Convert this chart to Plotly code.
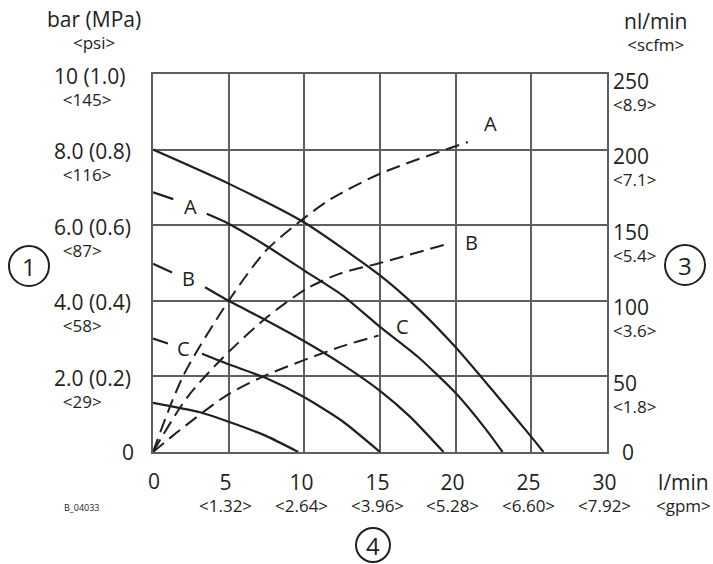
import plotly.graph_objects as go

# ---------------- data ----------------
# pressure curves (bar) vs flow (l/min)
p_top_x = [0, 5, 10, 15, 17.5, 20, 22.5, 25, 25.8]
p_top_y = [8.0, 7.1, 6.07, 4.67, 3.8, 2.77, 1.6, 0.4, 0]

p_a_lead_x = [0, 1.34]
p_a_lead_y = [6.87, 6.69]
p_a_x = [3.55, 5, 7.5, 10, 12.5, 15, 17.5, 20, 22, 23.1]
p_a_y = [6.3, 6.04, 5.45, 4.8, 4.15, 3.31, 2.52, 1.56, 0.6, 0]

p_b_lead_x = [0, 1.26]
p_b_lead_y = [4.98, 4.75]
p_b_x = [3.44, 5, 7.5, 10, 12.5, 15, 17, 19.2]
p_b_y = [4.36, 4.0, 3.48, 2.93, 2.32, 1.62, 0.93, 0]

p_c_lead_x = [0, 0.99]
p_c_lead_y = [3.0, 2.87]
p_c_x = [3.24, 5, 7.5, 10, 12.5, 15]
p_c_y = [2.6, 2.32, 1.95, 1.45, 0.82, 0]

p_d_x = [0, 3.1, 5, 7.5, 9.6]
p_d_y = [1.3, 1.05, 0.8, 0.42, 0]

# air consumption curves (nl/min) vs flow (l/min)
q_a_x = [0, 1.98, 5, 7.45, 9.52, 11.7, 15, 20.8]
q_a_y = [0, 50, 100, 133, 151, 167, 184, 205]
q_b_x = [0, 2.25, 4.63, 7.51, 10.16, 12.36, 15, 19.4]
q_b_y = [0, 36, 62.5, 89, 108, 118, 125, 137.5]
q_c_x = [0, 1.78, 4.87, 7.29, 12.36, 14.9]
q_c_y = [0, 14.5, 37.5, 50, 69.5, 77]

# curve labels
curve_labels = ["A", "B", "C"]
p_label_x = [2.45, 2.33, 2.0]
p_label_y = [6.49, 4.59, 2.74]
q_label_x = [22.3, 21.06, 16.5]
q_label_y = [8.69, 5.54, 3.33]   # in bar-axis units

# tick labels
left_vals = [2, 4, 6, 8, 10]
left_main = ["2.0 (0.2)", "4.0 (0.4)", "6.0 (0.6)", "8.0 (0.8)", "10 (1.0)"]
left_sub = ["&lt;29&gt;", "&lt;58&gt;", "&lt;87&gt;", "&lt;116&gt;", "&lt;145&gt;"]
right_vals = [50, 100, 150, 200, 250]
right_main = ["50", "100", "150", "200", "250"]
right_sub = ["&lt;1.8&gt;", "&lt;3.6&gt;", "&lt;5.4&gt;", "&lt;7.1&gt;", "&lt;8.9&gt;"]
bottom_vals = [5, 10, 15, 20, 25, 30]
bottom_main = ["5", "10", "15", "20", "25", "30"]
bottom_sub = ["&lt;1.32&gt;", "&lt;2.64&gt;", "&lt;3.96&gt;", "&lt;5.28&gt;", "&lt;6.60&gt;", "&lt;7.92&gt;"]

# ---------------- style ----------------
FONT = "Open Sans"
INK = "#231f20"
GRID = "#5b615f"
MAIN = 21
SUB = 17
BASE = 17   # sets the line spacing of two-line labels
W, H = 713, 564
L, R, T, B = 153, 106, 74, 112
PW, PH = W - L - R, H - T - B


def px(x):
    return (x - L) / PW


def py(y):
    return (H - B - y) / PH


def two(m, s, pad=""):
    return (f"<span style='font-size:{MAIN}px'>{m}</span><br>"
            f"<span style='font-size:{SUB}px'>{pad}{s}</span>")


fig = go.Figure()

solid = dict(color=INK, width=2.2, shape="spline", smoothing=0.6)
for xs, ys in [(p_top_x, p_top_y), (p_a_x, p_a_y), (p_b_x, p_b_y),
               (p_c_x, p_c_y), (p_d_x, p_d_y),
               (p_a_lead_x, p_a_lead_y), (p_b_lead_x, p_b_lead_y),
               (p_c_lead_x, p_c_lead_y)]:
    fig.add_trace(go.Scatter(x=xs, y=ys, mode="lines", line=solid,
                             hoverinfo="skip", showlegend=False))

dashed = dict(color=INK, width=2.0, shape="spline", smoothing=0.8, dash="14px,7px")
for xs, ys in [(q_a_x, q_a_y), (q_b_x, q_b_y), (q_c_x, q_c_y)]:
    fig.add_trace(go.Scatter(x=xs, y=ys, mode="lines", line=dashed, yaxis="y2",
                             hoverinfo="skip", showlegend=False))

ann = []
tf = dict(family=FONT, size=MAIN, color=INK)
bf = dict(family=FONT, size=BASE, color=INK)
lf = dict(family=FONT, size=20, color=INK)


def note(**kw):
    kw.setdefault("showarrow", False)
    kw.setdefault("xanchor", "center")
    kw.setdefault("yanchor", "middle")
    ann.append(kw)


for t, x, y in zip(curve_labels, p_label_x, p_label_y):
    note(x=x, y=y, xref="x", yref="y", text=t, font=lf)
for t, x, y in zip(curve_labels, q_label_x, q_label_y):
    note(x=x, y=y, xref="x", yref="y", text=t, font=lf)

# left axis labels
for v, m, s in zip(left_vals, left_main, left_sub):
    note(x=px(52), y=v, xref="paper", yref="y", text=two(m, s, "&nbsp;&nbsp;"),
         xanchor="left", align="left", yshift=-12, font=bf)
note(x=px(128), y=0, xref="paper", yref="y", text="0", font=tf)

# right axis labels
for v, m, s in zip(right_vals, right_main, right_sub):
    note(x=px(611), y=v, xref="paper", yref="y2", text=two(m, s),
         xanchor="left", align="left", yshift=-17, font=bf)
note(x=px(628), y=0, xref="paper", yref="y2", text="0", font=tf)

# bottom axis labels
note(x=0, y=py(481), xref="x", yref="paper", text="0", xshift=1, font=tf)
for v, m, s in zip(bottom_vals, bottom_main, bottom_sub):
    note(x=v, y=py(492), xref="x", yref="paper", text=two(m, s),
         align="center", xshift=-3, font=bf)

# unit titles
note(x=px(94), y=py(30), xref="paper", yref="paper", text=two("bar (MPa)", "&lt;psi&gt;"),
     align="center", font=bf)
note(x=px(656), y=py(31), xref="paper", yref="paper", text=two("nl/min", "&lt;scfm&gt;"),
     align="center", font=bf)
note(x=px(683), y=py(492), xref="paper", yref="paper", text=two("l/min", "&lt;gpm&gt;"),
     align="center", font=bf)
note(x=px(82), y=py(507), xref="paper", yref="paper", text="B_04033",
     font=dict(family=FONT, size=9, color=INK))

# circled callouts
shapes = []
for num, cx, cy, r in [("1", 29, 266, 20), ("3", 685, 265, 20), ("4", 373, 545, 17)]:
    shapes.append(dict(type="circle", xref="paper", yref="paper",
                       x0=px(cx - r), x1=px(cx + r), y0=py(cy + r), y1=py(cy - r),
                       line=dict(color=INK, width=2)))
    note(x=px(cx), y=py(cy), xref="paper", yref="paper", text=num,
         font=dict(family=FONT, size=24, color=INK))

fig.update_layout(
    width=W, height=H,
    margin=dict(l=L, r=R, t=T, b=B),
    paper_bgcolor="white", plot_bgcolor="white",
    xaxis=dict(range=[0, 30], dtick=5, showgrid=True, gridcolor=GRID, gridwidth=2,
               showline=True, linecolor=GRID, linewidth=2, mirror=True,
               showticklabels=False, ticks="", zeroline=False, fixedrange=True),
    yaxis=dict(range=[0, 10], dtick=2, showgrid=True, gridcolor=GRID, gridwidth=2,
               showline=True, linecolor=GRID, linewidth=2, mirror=True,
               showticklabels=False, ticks="", zeroline=False, fixedrange=True),
    yaxis2=dict(range=[0, 250], overlaying="y", side="right", showgrid=False,
                showticklabels=False, ticks="", zeroline=False, showline=False,
                fixedrange=True),
    annotations=ann,
    shapes=shapes,
    showlegend=False,
)

fig.write_html("out.html", config={"displayModeBar": False, "staticPlot": True})

# remove the browser's default page margin so the figure sits at (0, 0)
with open("out.html", "r", encoding="utf-8") as f:
    html = f.read()
html = html.replace("<body>", "<body style=\"margin:0;padding:0;overflow:hidden\">", 1)
with open("out.html", "w", encoding="utf-8") as f:
    f.write(html)
